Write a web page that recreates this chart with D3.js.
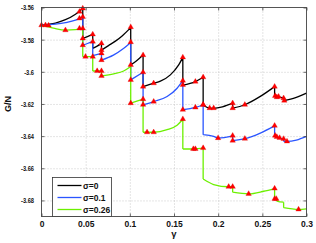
<!DOCTYPE html>
<html>
<head>
<meta charset="utf-8">
<script src="https://cdn.jsdelivr.net/npm/d3@7"></script>
<style>
html,body{margin:0;padding:0;background:#fff;}
svg{display:block;font-family:"Liberation Sans",Arial,Helvetica,sans-serif;}
</style>
</head>
<body>
<svg id="chart" width="316" height="243"></svg>
<script>
// ---- data ----
const xTicks = [0, 0.05, 0.1, 0.15, 0.2, 0.25, 0.3];
const xTickLabels = ["0", "0.05", "0.1", "0.15", "0.2", "0.25", "0.3"];
const yTicks = [-3.68, -3.66, -3.64, -3.62, -3.6, -3.58, -3.56];
const yTickLabels = ["-3.68", "-3.66", "-3.64", "-3.62", "-3.6", "-3.58", "-3.56"];
const seriesNames = ["σ=0", "σ=0.1", "σ=0.26"];
const xLabel = "γ";
const yLabel = "G/N";

// each series: list of smooth segments (gamma, G/N); consecutive segments joined by vertical jumps
const sigma0Segments = [
  [[0,-3.571],[0.0158,-3.5697],[0.0271,-3.5676],[0.0385,-3.5642],[0.0467,-3.5606]],
  [[0.0467,-3.5792],[0.052,-3.5781],[0.058,-3.5767]],
  [[0.058,-3.5854],[0.063,-3.584],[0.0679,-3.5823]],
  [[0.0679,-3.5865],[0.0758,-3.5837],[0.0837,-3.5809],[0.0916,-3.5775],[0.101,-3.5725]],
  [[0.101,-3.5957],[0.108,-3.593],[0.115,-3.5896]],
  [[0.115,-3.6092],[0.127,-3.6071],[0.1346,-3.6058],[0.1459,-3.6019],[0.1553,-3.5957],[0.16,-3.591]],
  [[0.16,-3.6083],[0.1742,-3.6061],[0.183,-3.6034]],
  [[0.183,-3.6208],[0.1904,-3.6226],[0.1949,-3.6227],[0.2048,-3.6218],[0.2164,-3.6195]],
  [[0.2164,-3.6226],[0.2302,-3.6205],[0.2477,-3.6153],[0.2639,-3.6092]],
  [[0.2639,-3.6149],[0.2684,-3.6156],[0.2741,-3.6162]],
  [[0.2741,-3.6179],[0.2877,-3.616],[0.3,-3.6132]]
];
const sigma1Segments = [
  [[0,-3.571],[0.0158,-3.5703],[0.0271,-3.5694],[0.0385,-3.5679],[0.0467,-3.5658]],
  [[0.0467,-3.5834],[0.052,-3.5824],[0.058,-3.5811]],
  [[0.058,-3.5899],[0.0679,-3.5885]],
  [[0.0679,-3.5927],[0.0814,-3.5896],[0.0928,-3.5855],[0.101,-3.5817]],
  [[0.101,-3.605],[0.115,-3.6003]],
  [[0.115,-3.6205],[0.127,-3.6185],[0.1422,-3.6154],[0.1535,-3.6102],[0.16,-3.6055]],
  [[0.16,-3.6236],[0.1742,-3.6222],[0.183,-3.6205]],
  [[0.183,-3.6391],[0.1949,-3.6402],[0.1999,-3.6412],[0.2164,-3.6398]],
  [[0.2164,-3.6428],[0.2302,-3.6416],[0.2477,-3.6381],[0.2639,-3.6336]],
  [[0.2639,-3.6391],[0.2684,-3.6412],[0.2741,-3.6418]],
  [[0.2741,-3.6432],[0.278,-3.6433],[0.2885,-3.6425],[0.3,-3.6402]]
];
const sigma2Segments = [
  [[0,-3.571],[0.0135,-3.5728],[0.0271,-3.5741],[0.0385,-3.5738],[0.0467,-3.573]],
  [[0.0467,-3.5906],[0.058,-3.5906]],
  [[0.058,-3.5995],[0.0679,-3.5995]],
  [[0.0679,-3.6026],[0.0818,-3.6013],[0.093,-3.5995],[0.101,-3.5967]],
  [[0.101,-3.6195],[0.115,-3.617]],
  [[0.115,-3.6376],[0.127,-3.6376],[0.1422,-3.636],[0.1535,-3.6332],[0.16,-3.6295]],
  [[0.16,-3.648],[0.1729,-3.648],[0.183,-3.6475]],
  [[0.183,-3.6667],[0.1949,-3.6701],[0.2119,-3.6715],[0.2164,-3.6715]],
  [[0.2164,-3.6749],[0.2345,-3.6759],[0.2514,-3.6743],[0.2639,-3.6726]],
  [[0.2639,-3.679],[0.2658,-3.679],[0.2666,-3.6804],[0.2741,-3.6811]],
  [[0.2741,-3.6845],[0.291,-3.6856],[0.3,-3.6852]]
];

// triangle markers (gamma, G/N)
const sigma0Markers = [
  [0,-3.571],[0.043,-3.5626],[0.0467,-3.5606],[0.0467,-3.5792],[0.058,-3.5767],
  [0.0679,-3.5823],[0.0679,-3.5865],[0.101,-3.5722],[0.101,-3.5957],[0.115,-3.5896],
  [0.115,-3.6092],[0.127,-3.6071],[0.16,-3.591],[0.16,-3.6081],[0.1742,-3.6061],
  [0.183,-3.6034],[0.183,-3.6205],[0.1904,-3.6226],[0.1949,-3.6226],[0.2164,-3.6195],
  [0.2164,-3.6226],[0.2302,-3.6205],[0.2639,-3.6092],[0.2645,-3.615],[0.2664,-3.6158],
  [0.2684,-3.6154],[0.2741,-3.6164],[0.2749,-3.6179]
];
const sigma1Markers = [
  [0.0045,-3.571],[0.043,-3.5668],[0.0467,-3.5658],[0.0467,-3.5834],[0.058,-3.5812],
  [0.0679,-3.5885],[0.0679,-3.5927],[0.101,-3.5815],[0.101,-3.605],[0.115,-3.6003],
  [0.115,-3.6205],[0.127,-3.6185],[0.16,-3.6055],[0.16,-3.6236],[0.1742,-3.6222],
  [0.183,-3.6205],[0.1999,-3.6412],[0.2164,-3.6397],[0.2164,-3.6428],[0.2302,-3.6416],
  [0.2639,-3.6335],[0.2645,-3.6397],[0.2664,-3.6405],[0.2696,-3.6411],[0.2741,-3.6417],
  [0.2779,-3.6433]
];
const sigma2Markers = [
  [0.008,-3.5712],[0.0271,-3.5741],[0.043,-3.573],[0.0467,-3.573],[0.0498,-3.5906],
  [0.058,-3.5906],[0.063,-3.5995],[0.0679,-3.5995],[0.0679,-3.6026],[0.101,-3.6195],
  [0.115,-3.617],[0.1195,-3.6376],[0.127,-3.6376],[0.16,-3.6294],[0.1719,-3.648],
  [0.1742,-3.648],[0.183,-3.6474],[0.2119,-3.6715],[0.2164,-3.6715],[0.2345,-3.6759],
  [0.2639,-3.6726],[0.2639,-3.679],[0.2658,-3.679],[0.291,-3.6856]
];

// ---- drawing ----
const colors = ["#000000", "#2a55ff", "#6cf000"];
const svg = d3.select("#chart");
const L = 41.5, R = 306.5, T = 7.5, B = 216.5;
const x = d3.scaleLinear().domain([0, 0.3]).range([L, R]);
const y = d3.scaleLinear().domain([-3.56, -3.69]).range([T, B]);

// grid
const grid = svg.append("g");
grid.append("g").attr("transform", `translate(0,${B})`)
  .call(d3.axisBottom(x).tickValues(xTicks.slice(1, -1)).tickSize(-(B - T)).tickFormat(""))
  .call(g => g.select(".domain").remove());
grid.append("g").attr("transform", `translate(${L},0)`)
  .call(d3.axisLeft(y).tickValues(yTicks.slice(0, -1)).tickSize(-(R - L)).tickFormat(""))
  .call(g => g.select(".domain").remove());
grid.selectAll("line").attr("stroke", "#bdbdbd").attr("stroke-width", 0.8).attr("stroke-dasharray", "1,2");

// series
const segLine = d3.line().x(d => x(d[0])).y(d => y(d[1])).curve(d3.curveMonotoneX);
const straight = d3.line().x(d => x(d[0])).y(d => y(d[1]));
[sigma0Segments, sigma1Segments, sigma2Segments].forEach((segs, i) => {
  let d = "";
  segs.forEach((s, j) => {
    d += segLine(s);
    if (j < segs.length - 1) d += straight([s[s.length - 1], segs[j + 1][0]]);
  });
  svg.append("path").attr("d", d).attr("fill", "none")
    .attr("stroke", colors[i]).attr("stroke-width", 1.3).attr("stroke-linejoin", "round");
});

// markers
const tri = d3.symbol().type(d3.symbolTriangle).size(13);
[sigma0Markers, sigma1Markers, sigma2Markers].forEach(ms => {
  svg.append("g").selectAll("path").data(ms).join("path")
    .attr("d", tri)
    .attr("transform", d => `translate(${x(d[0])},${y(d[1])})`)
    .attr("fill", "#ff0000").attr("stroke", "#dd0000").attr("stroke-width", 0.3);
});

// axes with inward ticks
const axB = svg.append("g").attr("transform", `translate(0,${B})`)
  .call(d3.axisBottom(x).tickValues(xTicks).tickSizeInner(-3).tickSizeOuter(0).tickPadding(4)
    .tickFormat((d, i) => xTickLabels[i]));
const axL = svg.append("g").attr("transform", `translate(${L},0)`)
  .call(d3.axisLeft(y).tickValues(yTicks).tickSizeInner(-3).tickSizeOuter(0).tickPadding(7)
    .tickFormat((d, i) => yTickLabels[i]));
const axT = svg.append("g").attr("transform", `translate(0,${T})`)
  .call(d3.axisTop(x).tickValues(xTicks).tickSizeInner(-3).tickSizeOuter(0).tickFormat(""));
const axR = svg.append("g").attr("transform", `translate(${R},0)`)
  .call(d3.axisRight(y).tickValues(yTicks).tickSizeInner(-3).tickSizeOuter(0).tickFormat(""));
[axB, axL, axT, axR].forEach(a => {
  a.select(".domain").remove();
  a.selectAll("line").attr("stroke", "#444").attr("stroke-width", 0.8);
});
axB.selectAll("text").attr("font-size", 8.5).attr("font-weight", "bold").attr("fill", "#111")
  .attr("font-family", '"Liberation Sans",Arial,sans-serif');
axL.selectAll("text").attr("font-size", 7.5).attr("font-weight", "bold").attr("fill", "#111")
  .attr("font-family", '"Liberation Sans",Arial,sans-serif')
  .attr("x", 0).attr("transform", "translate(-7.5,0) scale(0.76,1)");

// frame
svg.append("rect").attr("x", L).attr("y", T).attr("width", R - L).attr("height", B - T)
  .attr("fill", "none").attr("stroke", "#444").attr("stroke-width", 0.9);

// axis titles
svg.append("text").attr("transform", "translate(10.5,104) rotate(-90)")
  .attr("text-anchor", "middle").attr("font-size", 9).attr("font-weight", "bold").attr("fill", "#111")
  .text(yLabel);
svg.append("text").attr("x", (L + R) / 2).attr("y", 237)
  .attr("text-anchor", "middle").attr("font-size", 9.5).attr("font-weight", "bold").attr("fill", "#111")
  .text(xLabel);

// legend
const lg = svg.append("g");
lg.append("rect").attr("x", 52.5).attr("y", 177.5).attr("width", 59).attr("height", B - 177.5)
  .attr("fill", "#fff").attr("stroke", "#333").attr("stroke-width", 0.8);
seriesNames.forEach((name, i) => {
  const yy = 185.5 + i * 12;
  lg.append("line").attr("x1", 57.5).attr("x2", 81.5).attr("y1", yy).attr("y2", yy)
    .attr("stroke", colors[i]).attr("stroke-width", 1.3);
  lg.append("text").attr("x", 83).attr("y", yy + 3).attr("font-size", 8.5).attr("font-weight", "bold")
    .attr("fill", "#111").text(name);
});
</script>
</body>
</html>
